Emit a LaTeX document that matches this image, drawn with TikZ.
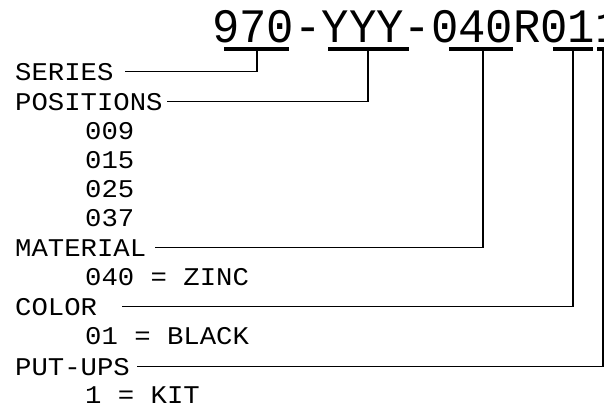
\documentclass[tikz,border=0pt]{standalone}
\usepackage{fontspec}
\newfontfamily\cadfont[FakeStretch=0.95]{Liberation Mono}
\newfontfamily\cadwide[FakeStretch=1.07]{Liberation Mono}
\begin{document}
\begin{tikzpicture}[x=1pt,y=-1pt,
  lbl/.style={anchor=base west,inner sep=0pt,font=\cadwide\fontsize{25.5}{25.5}\selectfont},
  conn/.style={line width=1.4pt},
  bar/.style={line width=3.6pt}]
\useasboundingbox[fill=white] (0,0) rectangle (604,408);
% part number
\node[anchor=base west,inner sep=0pt,font=\cadfont\fontsize{48}{48}\selectfont] (code) at (212,42) {970-YYY-040R011};
% underline bars
\draw[bar] (224,49) -- (289,49);
\draw[bar] (328,49) -- (409,49);
\draw[bar] (449,49) -- (513,49);
\draw[bar] (553,49) -- (593,49);
\draw[bar] (597,49) -- (610,49);
\coordinate (b1) at (257,49);
\coordinate (b2) at (368,49);
\coordinate (b3) at (483,49);
\coordinate (b4) at (573,49);
\coordinate (b5) at (603,49);
% free ends of the leader lines
\coordinate (e1) at (125,0);
\coordinate (e2) at (167,0);
\coordinate (e3) at (155,0);
\coordinate (e4) at (122,0);
\coordinate (e5) at (137,0);
% labels
\node[lbl] (series) at (15,80) {SERIES};
\node[lbl] (positions) at (15,110) {POSITIONS};
\node[lbl] (p1) at (85,139) {009};
\node[lbl] (p2) at (85,168) {015};
\node[lbl] (p3) at (85,197) {025};
\node[lbl] (p4) at (85,226) {037};
\node[lbl] (material) at (15,256) {MATERIAL};
\node[lbl] (m1) at (85,285) {040 = ZINC};
\node[lbl] (color) at (15,315) {COLOR};
\node[lbl] (c1) at (85,344) {01 = BLACK};
\node[lbl] (putups) at (15,375) {PUT-UPS};
\node[lbl] (u1) at (85,403) {1 = KIT};
% connectors
\draw[conn] (b1) |- (series.east -| e1);
\draw[conn] (b2) |- (positions.east -| e2);
\draw[conn] (b3) |- (material.east -| e3);
\draw[conn] (b4) |- (color.east -| e4);
\draw[conn] (b5) |- (putups.east -| e5);
\end{tikzpicture}
\end{document}
